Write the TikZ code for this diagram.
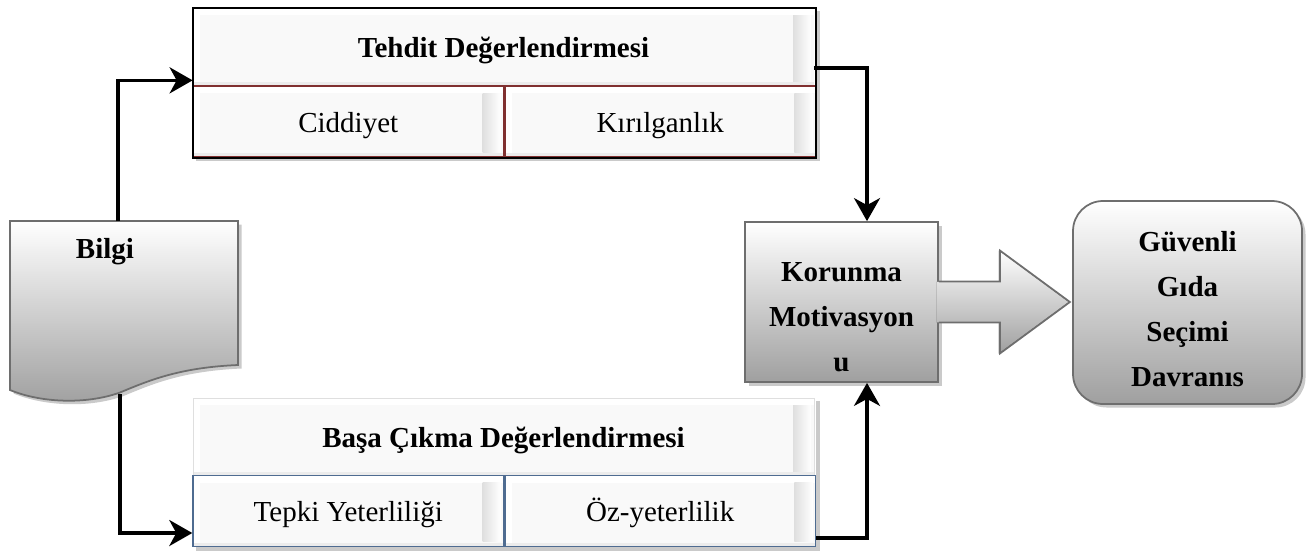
\documentclass[tikz,border=0pt]{standalone}
\usepackage{fontspec}
\setmainfont{Liberation Serif}
\usetikzlibrary{arrows.meta, positioning, calc, shadows, backgrounds}
\definecolor{cellred}{RGB}{128, 48, 48}
\definecolor{cellblue}{RGB}{79, 108, 145}
\definecolor{edgegray}{RGB}{110, 110, 110}

\begin{document}
\begin{tikzpicture}[font=\fontsize{16.5}{23}\selectfont]
    \tikzstyle{bevel} = [rectangle, inner sep=0pt, text height=1.25em, text depth=0em, fill=gray!5, path picture={
        \fill[white] (path picture bounding box.north west) rectangle ([yshift=-0.14cm]path picture bounding box.north east);
        \fill[white] (path picture bounding box.north west) rectangle ([xshift=0.14cm]path picture bounding box.south west);
        \shade[left color=gray!25, right color=white] ([xshift=-0.42cm,yshift=-0.14cm]path picture bounding box.north east) rectangle ([xshift=-0.06cm,yshift=0.1cm]path picture bounding box.south east);
        \fill[gray!15] (path picture bounding box.south west) rectangle ([yshift=0.08cm]path picture bounding box.south east);}]
    \tikzstyle{title} = [bevel, minimum width=12.42cm, minimum height=1.56cm, font=\fontsize{16.5}{23}\selectfont\bfseries]
    \tikzstyle{cell} = [bevel, line width=0.8pt, minimum width=6.21cm, minimum height=1.42cm]
    \tikzstyle{arrow} = [line width=2pt, -{Stealth[length=0.46cm, width=0.52cm, inset=0.14cm]}]
    \tikzstyle{shadowed} = [drop shadow={shadow xshift=0.07cm, shadow yshift=-0.07cm, fill=gray!70, opacity=0.6}]
    \tikzstyle{grey} = [draw=edgegray, line width=1pt, top color=white, bottom color=gray!75]
    \tikzstyle{bold} = [align=center, font=\fontsize{16.5}{25.5}\selectfont\bfseries]

    \useasboundingbox (0,0) rectangle (26.22,-11.08);

    % tehdit
    \node[title] (tehdit) at (10.07,-0.94) {Tehdit Değerlendirmesi};
    \node[cell, draw=cellred] (ciddiyet) at (6.965,-2.43) {Ciddiyet};
    \node[cell, draw=cellred, right=0pt of ciddiyet] (kirilgan) {Kırılganlık};
    \draw[line width=1.3pt] (tehdit.north west) rectangle (kirilgan.south east);

    % basa cikma
    \node[title, draw=gray!25] (basa) at (10.07,-8.74) {Başa Çıkma Değerlendirmesi};
    \node[cell, draw=cellblue] (tepki) at (6.965,-10.22) {Tepki Yeterliliği};
    \node[cell, draw=cellblue, right=0pt of tepki] (oz) {Öz-yeterlilik};

    \begin{pgfonlayer}{background}
        \path[shadowed, fill=white] (tehdit.north west) rectangle (kirilgan.south east);
        \path[shadowed, fill=white] (basa.north west) rectangle (oz.south east);
    \end{pgfonlayer}

    % bilgi
    \draw[shadowed, grey] (0.2,-4.42) -- (4.76,-4.42) -- (4.76,-7.3)
        .. controls (3.6,-7.35) and (3.0,-7.6) .. (2.4,-7.85)
        .. controls (1.7,-8.1) and (0.8,-8.05) .. (0.2,-7.8) -- cycle;
    \node[bold] (bilgi) at (2.1,-5.04) {Bilgi};
    \coordinate (bilgitop) at (2.36,-4.42);
    \coordinate (bilgibottom) at (2.4,-7.88);

    % korunma ve davranis
    \node[grey, shadowed, minimum width=3.86cm, minimum height=3.2cm] (korunma) at (16.83,-6.04) {};
    \node[bold] (korunmayazi) at (16.83,-6.34) {Korunma\\Motivasyon\\u};
    \node[grey, shadowed, rounded corners=0.6cm, minimum width=4.58cm, minimum height=4.06cm] (guvenli) at (23.75,-6.05) {};
    \node[bold] (guvenliyazi) at (23.75,-6.18) {Güvenli\\Gıda\\Seçimi\\Davranıs};

    \fill[top color=white, bottom color=gray!75] ([xshift=-1.2pt,yshift=0.41cm]korunma.east) -- ++(1.24,0) -- ++(0,0.62) -- ++(1.4,-1.03) -- ++(-1.4,-1.03) -- ++(0,0.62) -- ++(-1.24,0) -- cycle;
    \draw[draw=edgegray, line width=1pt] ([yshift=0.41cm]korunma.east) -- ++(1.22,0) -- ++(0,0.62) -- ++(1.4,-1.03) -- ++(-1.4,-1.03) -- ++(0,0.62) -- ++(-1.22,0);

    % oklar
    \draw[arrow] (bilgitop) |- ([yshift=0.12cm]tehdit.south west);
    \draw[arrow] ([yshift=-0.42cm]tehdit.east) -| ([xshift=0.51cm]korunma.north);
    \draw[arrow] (bilgibottom) |- ([yshift=-0.44cm]tepki.west);
    \draw[arrow] ([yshift=-0.54cm]oz.east) -| ([xshift=0.51cm]korunma.south);
\end{tikzpicture}
\end{document}
